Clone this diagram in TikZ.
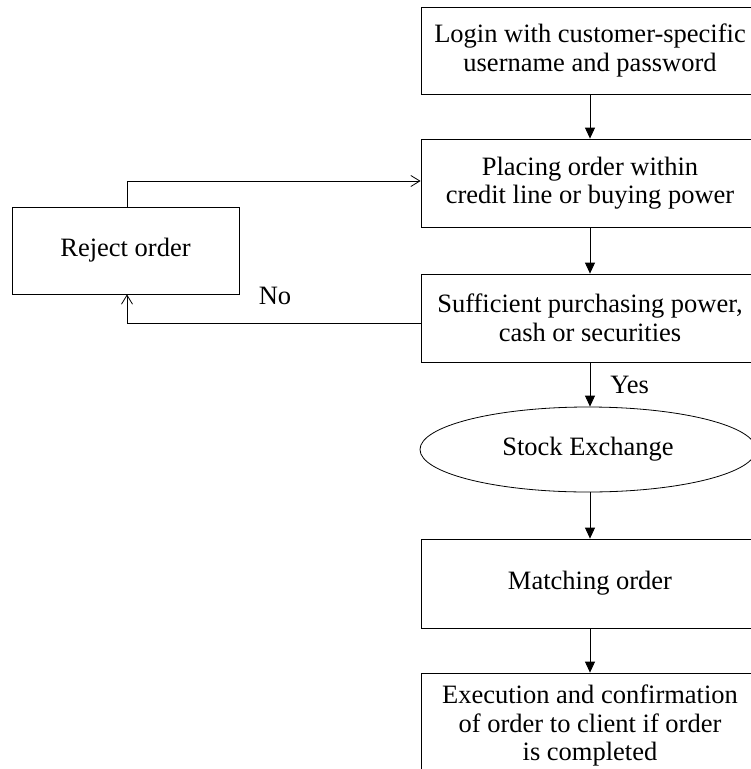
\documentclass[tikz,border=0pt]{standalone}
\usepackage{fontspec}
\setmainfont{Liberation Serif}
\usetikzlibrary{arrows.meta,positioning,shapes.geometric}
\tikzset{
  flow box/.style={
    draw,
    rectangle,
    align=center,
    minimum width=338pt,
    minimum height=88pt,
    inner sep=0pt,
    font=\fontsize{26.5}{28.5}\selectfont
  },
  flow ellipse/.style={
    flow box,
    ellipse,
    minimum width=336pt,
    minimum height=85pt
  },
  flow label/.style={
    inner sep=0pt,
    font=\fontsize{26.5}{28.5}\selectfont
  },
  back arrow/.style={
    -{Straight Barb[length=9pt,width=11pt]}
  }
}

\begin{document}
\begin{tikzpicture}[%
            x=1pt,
            y=-1pt,
            line width=0.8pt,
            >={Triangle[width=10pt,length=11pt]},
            on grid,
            node distance=133pt]
    \useasboundingbox (0,0) rectangle (751,769);
    \clip (0,0) rectangle (751,769);
    \node[flow box, minimum height=87pt] (login) at (590,50.5) {Login with customer-specific\\username and password};
    \node[flow box] (placing) [below=132.5pt of login] {Placing order within\\credit line or buying power};
    \node[flow box] (suff) [below=135pt of placing] {Sufficient purchasing power,\\cash or securities};
    \node[flow ellipse] (exch) [below=131.5pt of suff, xshift=-2pt] {Stock Exchange};
    \node[flow box, minimum height=89pt] (match) [below=265.5pt of suff] {Matching order};
    \node[flow box, minimum height=105pt] (exec) [below=142pt of match] {Execution and confirmation\\of order to client if order\\is completed};
    \node[flow box, minimum width=227pt, minimum height=87pt] (reject) at (125.5,250.5) {Reject order};
    \node[flow label] (no) at (275,296) {No};
    \path[->]
    (login) edge (placing)
    (placing) edge (suff)
    (suff.south) edge node[flow label, right=20pt] (yes) {Yes} (suff.south |- exch.north)
    (match.north |- exch.south) edge (match.north)
    (match) edge (exec);
    \draw[back arrow] ([xshift=1.5pt]reject.north) |- ([yshift=2pt]placing.west);
    \draw[back arrow] ([yshift=-5pt]suff.west) -| ([xshift=1.5pt]reject.south);
\end{tikzpicture}
\end{document}
